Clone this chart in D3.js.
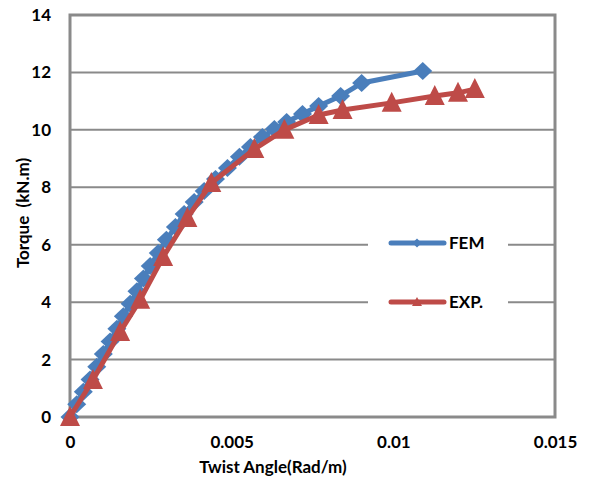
<!DOCTYPE html>
<html><head><meta charset="utf-8">
<script src="https://cdn.jsdelivr.net/npm/d3@7"></script>
<style>body{margin:0;background:#fff}svg{display:block}text{font-family:Lato,"Open Sans",sans-serif;font-weight:bold;fill:#000}</style>
</head><body><svg id="c" width="589" height="483"></svg>
<script>
const femX = [0,0.000208,0.000412,0.00062,0.000827,0.00103,0.00124,0.00145,0.00165,0.00186,0.00207,0.00227,0.00248,0.00273,0.00298,0.00326,0.00353,0.00384,0.00415,0.0045,0.00487,0.00524,0.00558,0.00595,0.00632,0.0067,0.00719,0.00769,0.00837,0.00902,0.01091];
const femY = [0,0.44,0.88,1.31,1.75,2.19,2.63,3.07,3.51,3.94,4.38,4.82,5.26,5.71,6.17,6.62,7.07,7.49,7.87,8.29,8.67,9.06,9.40,9.75,10.03,10.27,10.55,10.83,11.18,11.63,12.05];
const expX = [0,0.00071,0.00155,0.00217,0.00288,0.00363,0.00437,0.0057,0.00663,0.00769,0.00843,0.00995,0.01128,0.012,0.01252];
const expY = [0,1.29,2.96,4.08,5.57,6.93,8.15,9.33,10.0,10.52,10.69,10.94,11.18,11.29,11.42];
const xTicks = [0,0.005,0.01,0.015];
const xTickLabels = ["0","0.005","0.01","0.015"];
const yTicks = [0,2,4,6,8,10,12,14];
const seriesNames = ["FEM","EXP."];

const svg = d3.select("#c");
const L=70,R=555,T=15,B=417;
const x = d3.scaleLinear().domain([0,0.015]).range([L,R]);
const y = d3.scaleLinear().domain([0,14]).range([B,T]);
const grid="#8a8a8a";
const FS=17;

svg.append("g").selectAll("line").data(yTicks.slice(1,-1)).join("line")
  .attr("x1",L).attr("x2",R).attr("y1",d=>y(d)).attr("y2",d=>y(d))
  .attr("stroke",grid).attr("stroke-width",2);

const lg = svg.append("g");
lg.append("rect").attr("x",368).attr("y",222).attr("width",140).attr("height",100).attr("fill","#fff");

svg.append("rect").attr("x",L).attr("y",T).attr("width",R-L).attr("height",B-T)
  .attr("fill","none").attr("stroke",grid).attr("stroke-width",3);

const xAxis = d3.axisBottom(x).tickValues(xTicks).tickFormat((d,i)=>xTickLabels[i]).tickSize(0).tickPadding(19);
const gx = svg.append("g").attr("transform",`translate(0,${B})`).call(xAxis);
gx.select(".domain").remove();
gx.selectAll("text").attr("font-size",FS).attr("font-family","Lato").attr("font-weight","bold").attr("fill","#000");
const yAxis = d3.axisLeft(y).tickValues(yTicks).tickFormat(d3.format("d")).tickSize(0).tickPadding(19);
const gy = svg.append("g").attr("transform",`translate(${L},0)`).call(yAxis);
gy.select(".domain").remove();
gy.selectAll("text").attr("font-size",FS).attr("font-family","Lato").attr("font-weight","bold").attr("fill","#000");

svg.append("text").attr("x",273).attr("y",473).attr("text-anchor","middle").attr("font-size",FS).text("Twist Angle(Rad/m)");
svg.append("text").attr("transform","translate(29,213) rotate(-90)").attr("text-anchor","middle").attr("font-size",FS).text("Torque\u00A0\u00A0(kN.m)");

const line = d3.line().x(d=>x(d[0])).y(d=>y(d[1]));
const fem = femX.map((v,i)=>[v,femY[i]]);
const exp = expX.map((v,i)=>[v,expY[i]]);
const blue="#4A7EBB", red="#BE4B48";
const diamondPath = (w,h)=>`M0,${-h/2}L${w/2},0L0,${h/2}L${-w/2},0Z`;
const triPath = (w,h)=>`M0,${-h*0.55}L${w/2},${h*0.45}L${-w/2},${h*0.45}Z`;

svg.append("path").attr("d",line(fem)).attr("fill","none").attr("stroke",blue).attr("stroke-width",5).attr("stroke-linejoin","round");
svg.append("g").selectAll("path").data(fem).join("path").attr("d",diamondPath(19,18))
  .attr("transform",d=>`translate(${x(d[0])},${y(d[1])})`).attr("fill",blue);
svg.append("path").attr("d",line(exp)).attr("fill","none").attr("stroke",red).attr("stroke-width",5).attr("stroke-linejoin","round");
svg.append("g").selectAll("path").data(exp).join("path").attr("d",triPath(20,20))
  .attr("transform",d=>`translate(${x(d[0])},${y(d[1])})`).attr("fill",red);

const items=[{n:seriesNames[0],c:blue,s:diamondPath(9,9),y:243},{n:seriesNames[1],c:red,s:triPath(10,9),y:302}];
items.forEach(it=>{
  lg.append("line").attr("x1",391).attr("x2",444).attr("y1",it.y).attr("y2",it.y).attr("stroke",it.c).attr("stroke-width",5).attr("stroke-linecap","round");
  lg.append("path").attr("d",it.s).attr("transform",`translate(417,${it.y})`).attr("fill",it.c);
  lg.append("text").attr("x",449).attr("y",it.y+6).attr("font-size",FS).text(it.n);
});
</script></body></html>
